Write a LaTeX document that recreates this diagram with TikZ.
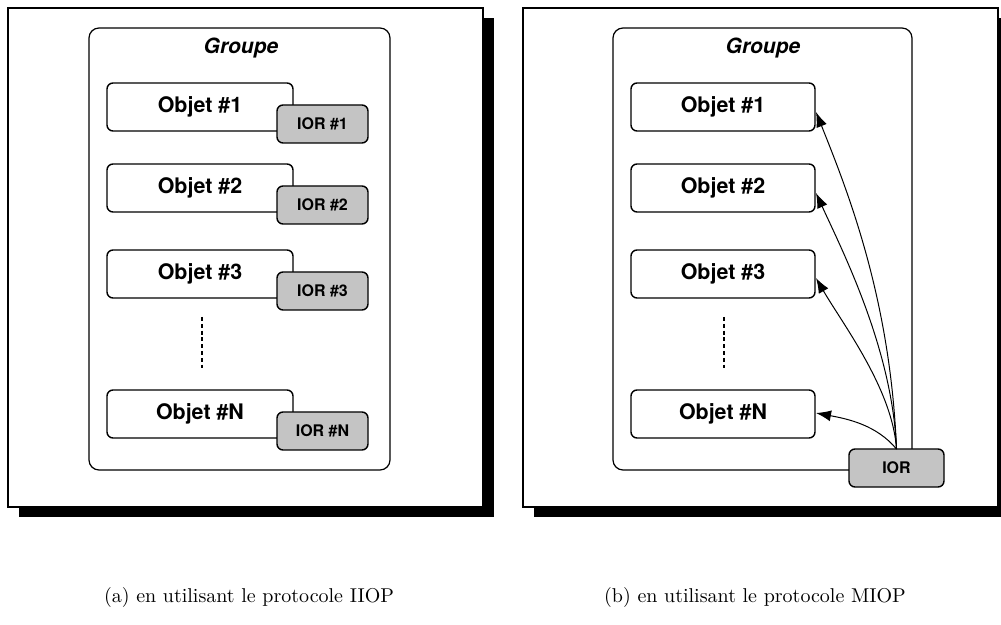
\documentclass[tikz,border=0pt]{standalone}
\usepackage{fontspec}
\setsansfont{TeX Gyre Heros}
\usetikzlibrary{arrows.meta,calc}
\tikzset{
  framebox/.style={draw, line width=1pt, fill=white},
  shadowbox/.style={fill=black},
  groupbox/.style={draw, line width=0.6pt, rounded corners=5pt},
  grouplabel/.style={font=\sffamily\bfseries\itshape\fontsize{10.5}{12}\selectfont},
  objbox/.style={draw, line width=0.7pt, rounded corners=3pt, fill=white, inner sep=0pt, outer sep=0pt,
    minimum height=24pt, font=\sffamily\bfseries\fontsize{10.7}{12}\selectfont},
  iorbox/.style={draw, fill=black!23, line width=0.7pt, rounded corners=3pt, inner sep=0pt, outer sep=0pt,
    minimum height=19pt, font=\sffamily\bfseries\fontsize{8}{9}\selectfont},
  dotsline/.style={line width=0.6pt, dash pattern=on 2pt off 1.4pt},
  arr/.style={line width=0.5pt, -{Latex[length=7.5pt,width=5.5pt]}},
  captext/.style={font=\fontsize{10}{12}\selectfont}
}
\begin{document}
\begin{tikzpicture}[x=0.5pt, y=-0.5pt]
\useasboundingbox (0,0) rectangle (1001,625);
\clip (0,0) rectangle (1001,625);

% ---------- Left panel (a) ----------
\fill[shadowbox] (19,18) rectangle (494,517);
\draw[framebox] (8,8) rectangle (483,507);
\draw[groupbox] (89,28) rectangle (390,470);
\node[grouplabel] (ga) at (241,48) {Groupe};

\node[objbox, minimum width=93pt] (a1) at (200,107) {Objet \#1};
\node[iorbox, minimum width=45.5pt] (ia1) at (322.5,124) {IOR \#1};
\node[objbox, minimum width=93pt] (a2) at (200,188) {Objet \#2};
\node[iorbox, minimum width=45.5pt] (ia2) at (322.5,205) {IOR \#2};
\node[objbox, minimum width=93pt] (a3) at (200,274) {Objet \#3};
\node[iorbox, minimum width=45.5pt] (ia3) at (322.5,291) {IOR \#3};
\coordinate (da1) at (202,317);
\coordinate (da2) at (202,368);
\draw[dotsline] (da1) -- (da2);
\node[objbox, minimum width=93pt] (aN) at (200,414) {Objet \#N};
\node[iorbox, minimum width=45.5pt] (iaN) at (322.5,431) {IOR \#N};

% ---------- Right panel (b) ----------
\fill[shadowbox] (534,18) rectangle (1009,517);
\draw[framebox] (523,8) rectangle (998,507);
\draw[groupbox] (613,28) rectangle (912,470);
\node[grouplabel] (gb) at (763,48) {Groupe};

\node[objbox, minimum width=92pt] (b1) at (723,107) {Objet \#1};
\node[objbox, minimum width=92pt] (b2) at (723,188) {Objet \#2};
\node[objbox, minimum width=92pt] (b3) at (723,274) {Objet \#3};
\coordinate (db1) at (724,317);
\coordinate (db2) at (724,368);
\draw[dotsline] (db1) -- (db2);
\node[objbox, minimum width=92pt] (bN) at (723,414) {Objet \#N};

\node[iorbox, minimum width=47.5pt] (ior) at (896.5,468) {IOR};

\draw[arr] (ior.north) .. controls +(-6,-150) and +(32,80) .. ($(b1.east)+(1,5)$);
\draw[arr] (ior.north) .. controls +(-4,-100) and +(26,57) .. ($(b2.east)+(1,5)$);
\draw[arr] (ior.north) .. controls +(-4,-60) and +(26,45) .. ($(b3.east)+(1,4)$);
\draw[arr] (ior.north) .. controls +(-20,-24) and +(32,6) .. ($(bN.east)+(1,-1)$);

% ---------- Captions ----------
\node[captext] (capa) at (249,597) {(a) en utilisant le protocole IIOP};
\node[captext] (capb) at (755,597) {(b) en utilisant le protocole MIOP};
\end{tikzpicture}
\end{document}
